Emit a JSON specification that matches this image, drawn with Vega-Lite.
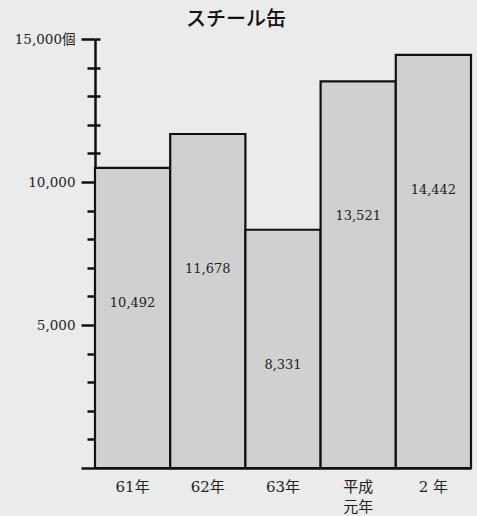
{
  "$schema": "https://vega.github.io/schema/vega-lite/v6.json",
  "autosize": "none",
  "width": 376,
  "height": 429,
  "padding": {"left": 95, "top": 39, "right": 6, "bottom": 48},
  "background": "#ebebeb",
  "title": {"text": "スチール缶", "font": "Noto Sans CJK JP", "fontSize": 20, "fontWeight": 500, "color": "#111", "anchor": "middle", "dx": -47, "offset": 2},
  "config": {"view": {"stroke": null}, "font": "DejaVu Serif"},
  "data": {"values": [
    {"year": "61年", "value": 10492},
    {"year": "62年", "value": 11678},
    {"year": "63年", "value": 8331},
    {"year": "平成\n元年", "value": 13521},
    {"year": "2 年", "value": 14442}
  ]},
  "encoding": {
    "x": {"field": "year", "type": "nominal", "sort": null,
      "scale": {"paddingInner": 0, "paddingOuter": 0},
      "axis": {"title": null, "labelAngle": 0, "ticks": false, "domainColor": "#111", "domainWidth": 2.5,
        "labelFont": "DejaVu Serif, Noto Sans CJK JP", "labelFontSize": 15, "labelColor": "#222", "labelPadding": 11,
        "labelExpr": "split(datum.label, '\\n')", "labelLineHeight": 20}}
  },
  "layer": [
    {"mark": {"type": "bar", "fill": "#d0d0d0", "stroke": "#111", "strokeWidth": 2.2},
      "encoding": {"y": {"field": "value", "type": "quantitative",
      "scale": {"domain": [0, 15000]},
      "axis": {"title": null, "grid": false, "orient": "left", "values": [0,1000,2000,3000,4000,5000,6000,7000,8000,9000,10000,11000,12000,13000,14000,15000],
        "labelExpr": "datum.value == 15000 ? '15,000個' : (datum.value % 5000 == 0 && datum.value > 0 ? format(datum.value, ',') : '')",
        "labelFont": "DejaVu Serif, Noto Sans CJK JP", "labelFontSize": 13.5, "labelColor": "#222",
        "tickSize": {"condition": {"test": "datum.value % 5000 == 0", "value": 14}, "value": 8},
        "tickWidth": 2.5, "tickColor": "#111", "domainColor": "#111", "domainWidth": 2.5, "labelPadding": 6}}}},
    {"mark": {"type": "text", "baseline": "middle", "dy": 135, "font": "DejaVu Serif", "fontSize": 13, "color": "#222"},
      "encoding": {
        "y": {"field": "value", "type": "quantitative", "scale": {"domain": [0, 15000]},
          "axis": {"title": null, "grid": false, "orient": "left", "values": [1000,2000,3000,4000,5000,6000,7000,8000,9000,10000,11000,12000,13000,14000,15000],
            "labels": false, "domain": false, "tickSize": -5, "tickWidth": 2.5, "tickColor": "#111", "offset": 0}},
        "text": {"field": "value", "type": "quantitative", "format": ","}}}
  ],
  "resolve": {"axis": {"y": "independent"}}
}
